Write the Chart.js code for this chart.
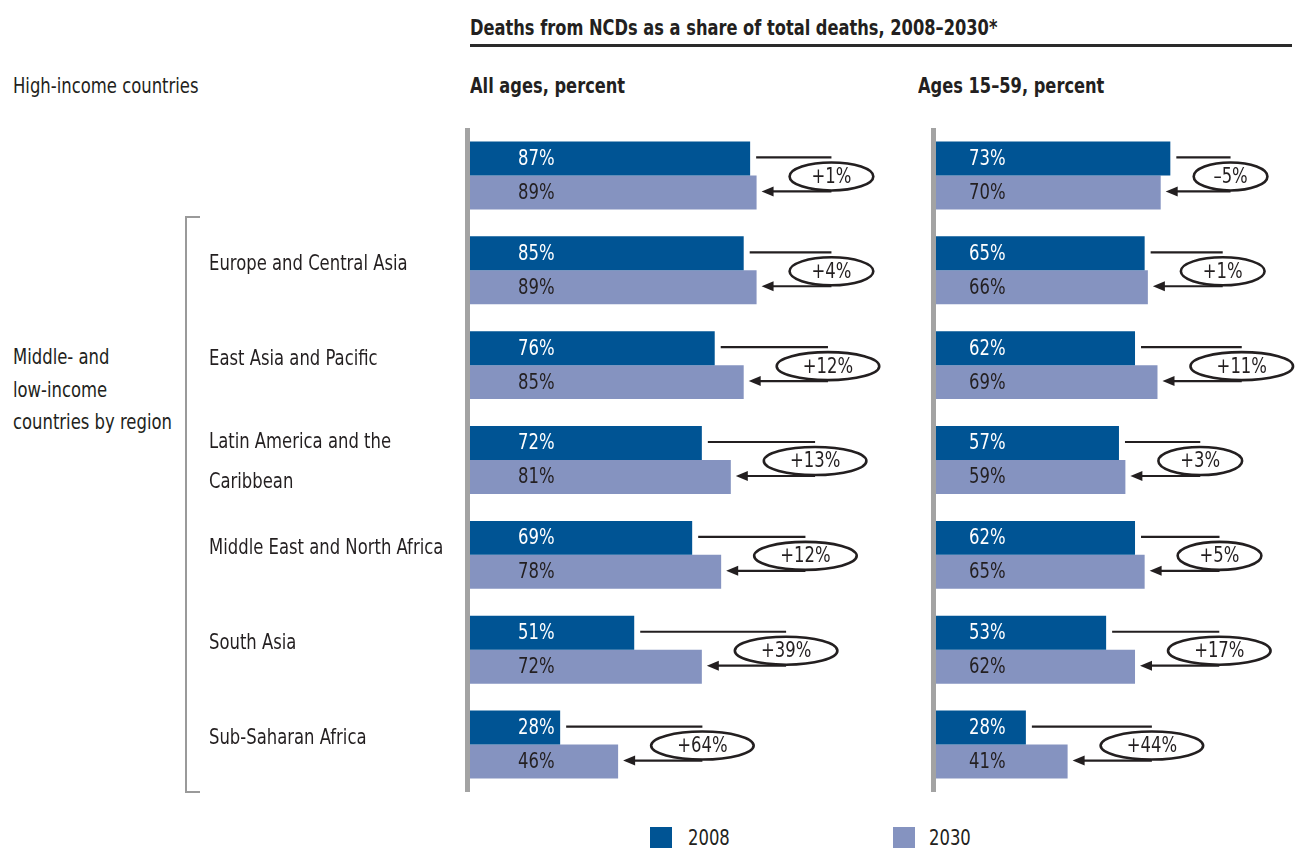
<!DOCTYPE html>
<html>
<head>
<meta charset="utf-8">
<script src="https://cdn.jsdelivr.net/npm/chart.js@4.4.1/dist/chart.umd.min.js"></script>
<style>
    body { margin: 0; background: #fff; }
    #page {
        position: relative; width: 1299px; height: 848px; overflow: hidden;
        font-family: "Liberation Sans Narrow", "DejaVu Sans Condensed", sans-serif;
        font-size: 21px; color: #231f20;
    }
    /* the original uses a condensed face; squeeze the fallback to match widths */
    .t { position: absolute; white-space: nowrap; line-height: 24px; transform: scaleX(0.87); transform-origin: left center; }
    .b { font-weight: bold; transform: scaleX(0.86); }
    canvas { position: absolute; }
    .sw { position: absolute; width: 22px; height: 22px; }
</style>
</head>
<body>
<div id="page">
    <div class="t b" style="left:470px; top:16px;">Deaths from NCDs as a share of total deaths, 2008–2030*</div>
    <div style="position:absolute; left:470px; top:44px; width:822px; height:3px; background:#2a2a2a;"></div>
    <div class="t" id="hiLabel" style="left:13px; top:74px;"></div>
    <div class="t b" style="left:470px; top:74px;">All ages, percent</div>
    <div class="t b" style="left:918px; top:74px;">Ages 15–59, percent</div>

    <div class="t" style="left:13px; top:341px; line-height:32.5px;">Middle- and<br>low-income<br>countries by region</div>
    <div style="position:absolute; left:185px; top:216px; width:13px; height:573px; border:2px solid #9a9a9a; border-right:none;"></div>

    <canvas id="allAges" width="900" height="720" style="left:0; top:100px;"></canvas>
    <canvas id="young" width="394" height="720" style="left:905px; top:100px;"></canvas>

    <div class="sw" style="left:650px; top:827px; background:#005494;"></div>
    <div class="t" style="left:688px; top:826px;">2008</div>
    <div class="sw" style="left:893px; top:827px; background:#8593c0;"></div>
    <div class="t" style="left:929px; top:826px;">2030</div>
</div>

<script>
// --- data ---
const categories = [
    'High-income countries',
    'Europe and Central Asia',
    'East Asia and Pacific',
    ['Latin America and the', 'Caribbean'],
    'Middle East and North Africa',
    'South Asia',
    'Sub-Saharan Africa'
];
const allAges2008 = [87, 85, 76, 72, 69, 51, 28];
const allAges2030 = [89, 89, 85, 81, 78, 72, 46];
const allAgesChange = ['+1%', '+4%', '+12%', '+13%', '+12%', '+39%', '+64%'];
const ages1559_2008 = [73, 65, 62, 57, 62, 53, 28];
const ages1559_2030 = [70, 66, 69, 59, 65, 62, 41];
const ages1559Change = ['–5%', '+1%', '+11%', '+3%', '+5%', '+17%', '+44%'];

const COLOR_2008 = '#005494';
const COLOR_2030 = '#8593c0';
const INK = '#231f20';
const FONT = '21px "Liberation Sans Narrow", "DejaVu Sans Condensed", sans-serif';
const SX = 0.87; // horizontal squeeze for canvas text

document.getElementById('hiLabel').textContent = categories[0];

function squeezedText(ctx, txt, x, y, align) {
    ctx.save();
    ctx.translate(x, y);
    ctx.scale(SX, 1);
    ctx.textAlign = align;
    ctx.fillText(txt, 0, 0);
    ctx.restore();
}

// draws the grey axis, value labels, change ellipses + arrows, region names
const annotate = {
    id: 'annotate',
    beforeDatasetsDraw(chart) {
        const { ctx, chartArea: a } = chart;
        ctx.save();
        ctx.fillStyle = '#a3a3a3';
        ctx.fillRect(a.left - 5, a.top, 5, a.bottom - a.top);
        ctx.restore();
    },
    afterDatasetsDraw(chart, args, opts) {
        const { ctx } = chart;
        const xs = chart.scales.x, ys = chart.scales.y;
        const m0 = chart.getDatasetMeta(0), m1 = chart.getDatasetMeta(1);
        const d0 = chart.data.datasets[0].data, d1 = chart.data.datasets[1].data;
        ctx.save();
        ctx.font = FONT;
        ctx.textBaseline = 'middle';
        m0.data.forEach(function(bar, i) {
            const b1 = m1.data[i];
            // values inside bars
            ctx.fillStyle = '#fff';
            squeezedText(ctx, d0[i] + '%', xs.left + opts.labelInset, bar.y + 1, 'left');
            ctx.fillStyle = INK;
            squeezedText(ctx, d1[i] + '%', xs.left + opts.labelInset, b1.y + 1, 'left');

            // change bubble
            const txt = opts.changes[i];
            const w = ctx.measureText(txt).width * SX;
            const rx = w * 0.9 + 6, ry = 14;
            const cx = b1.x + 33 + rx;
            const cy = (bar.y + b1.y) / 2 + 1;

            ctx.strokeStyle = INK;
            ctx.lineWidth = 2.2;
            ctx.beginPath();
            ctx.moveTo(bar.x + 6, bar.y - 1);
            ctx.lineTo(cx, bar.y - 1);
            ctx.stroke();

            ctx.beginPath();
            ctx.moveTo(cx, b1.y - 1);
            ctx.lineTo(b1.x + 14, b1.y - 1);
            ctx.stroke();
            ctx.fillStyle = INK;
            ctx.beginPath();
            ctx.moveTo(b1.x + 5, b1.y - 1);
            ctx.lineTo(b1.x + 17, b1.y - 6);
            ctx.lineTo(b1.x + 17, b1.y + 4);
            ctx.closePath();
            ctx.fill();

            ctx.fillStyle = '#fff';
            ctx.lineWidth = 2.6;
            ctx.beginPath();
            ctx.ellipse(cx, cy, rx, ry, 0, 0, Math.PI * 2);
            ctx.fill();
            ctx.stroke();
            ctx.fillStyle = INK;
            squeezedText(ctx, txt, cx, cy + 1, 'center');

            // region names (row 0 sits in the header)
            if (opts.drawCategories && i > 0) {
                const lab = chart.data.labels[i];
                const lines = Array.isArray(lab) ? lab : [lab];
                const yc = ys.getPixelForValue(i);
                lines.forEach(function(line, k) {
                    squeezedText(ctx, line, 209, yc - 6 - (lines.length - 1) * 11 + k * 40, 'left');
                });
            }
        });
        ctx.restore();
    }
};

function makeChart(id, d2008, d2030, changes, labelInset, padding, drawCategories) {
    return new Chart(document.getElementById(id), {
        type: 'bar',
        data: {
            labels: categories,
            datasets: [
                { label: '2008', data: d2008, backgroundColor: COLOR_2008 },
                { label: '2030', data: d2030, backgroundColor: COLOR_2030 }
            ]
        },
        options: {
            indexAxis: 'y',
            responsive: false,
            animation: false,
            devicePixelRatio: 1,
            layout: { padding: padding },
            datasets: { bar: { categoryPercentage: 0.716, barPercentage: 1, borderWidth: 0 } },
            scales: {
                x: { display: false, min: 0, max: 100 },
                y: { display: false }
            },
            plugins: {
                legend: { display: false },
                tooltip: { enabled: false },
                annotate: { changes: changes, labelInset: labelInset, drawCategories: drawCategories }
            }
        },
        plugins: [annotate]
    });
}

document.fonts.load(FONT).finally(function() {
    makeChart('allAges', allAges2008, allAges2030, allAgesChange, 48,
        { left: 470, right: 108, top: 28, bottom: 28 }, true);
    makeChart('young', ages1559_2008, ages1559_2030, ages1559Change, 33,
        { left: 31, right: 42, top: 28, bottom: 28 }, false);
});
</script>
</body>
</html>
